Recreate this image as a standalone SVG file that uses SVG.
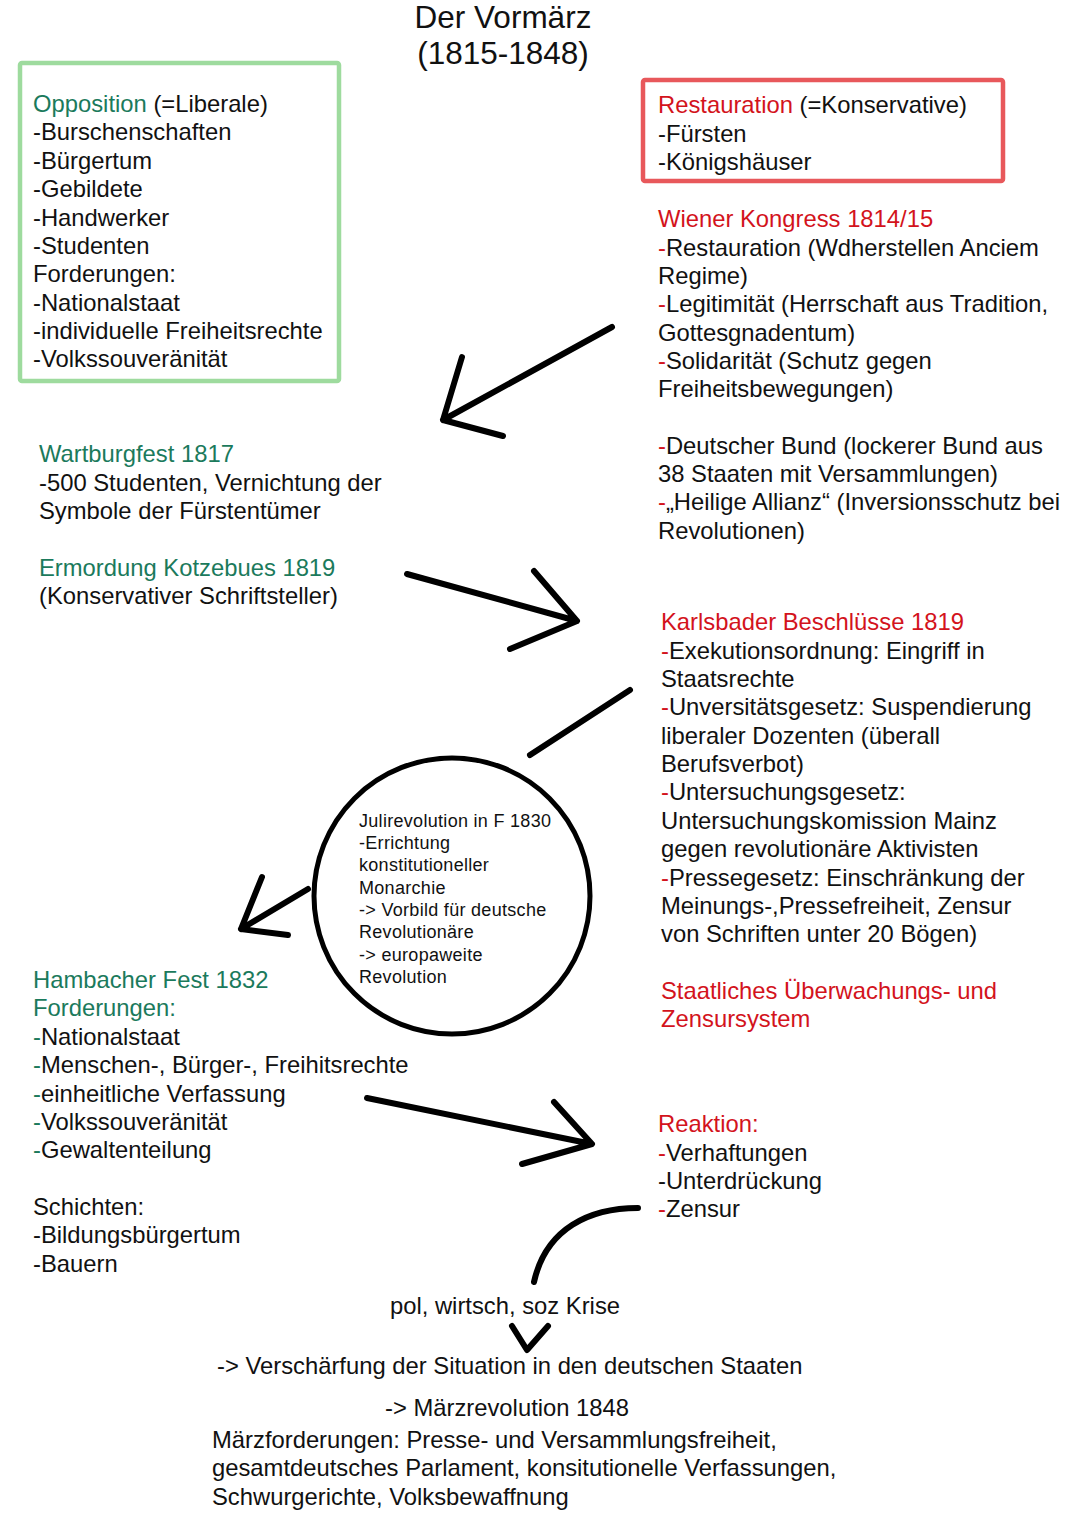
<svg xmlns="http://www.w3.org/2000/svg" width="1080" height="1527" viewBox="0 0 1080 1527">
<style>
text{font-family:"Liberation Sans",Arial,Helvetica,sans-serif;font-size:23.8px;fill:#111}
.g{fill:#1b7a5c}
.r{fill:#d3131c}
.title{font-size:31.5px}
.sm{font-size:18px;letter-spacing:0.3px}
.ln{fill:none;stroke:#000;stroke-width:6;stroke-linecap:round;stroke-linejoin:round}
</style>
<rect width="1080" height="1527" fill="#fff"/>
<g id="title">
<text class="title" x="503" y="28" text-anchor="middle">Der Vormärz</text>
<text class="title" x="503" y="64" text-anchor="middle">(1815-1848)</text>
</g>
<g id="opposition">
<rect x="20" y="63" width="319" height="318" fill="none" stroke="#9edb9e" stroke-width="4.5" rx="2"/>
<text x="33" y="112"><tspan class="g">Opposition</tspan> (=Liberale)</text>
<text x="33" y="140">-Burschenschaften</text>
<text x="33" y="169">-Bürgertum</text>
<text x="33" y="197">-Gebildete</text>
<text x="33" y="226">-Handwerker</text>
<text x="33" y="254">-Studenten</text>
<text x="33" y="282">Forderungen:</text>
<text x="33" y="311">-Nationalstaat</text>
<text x="33" y="339">-individuelle Freiheitsrechte</text>
<text x="33" y="367">-Volkssouveränität</text>
</g>
<g id="restauration">
<rect x="643" y="80" width="360" height="101" fill="none" stroke="#e8585b" stroke-width="4.5" rx="2"/>
<text x="658" y="113"><tspan class="r">Restauration</tspan> (=Konservative)</text>
<text x="658" y="142">-Fürsten</text>
<text x="658" y="170">-Königshäuser</text>
</g>
<g id="wiener-kongress">
<text class="r" x="658" y="227">Wiener Kongress 1814/15</text>
<text x="658" y="256"><tspan class="r">-</tspan>Restauration (Wdherstellen Anciem</text>
<text x="658" y="284">Regime)</text>
<text x="658" y="312"><tspan class="r">-</tspan>Legitimität (Herrschaft aus Tradition,</text>
<text x="658" y="341">Gottesgnadentum)</text>
<text x="658" y="369"><tspan class="r">-</tspan>Solidarität (Schutz gegen</text>
<text x="658" y="397">Freiheitsbewegungen)</text>
<text x="658" y="454"><tspan class="r">-</tspan>Deutscher Bund (lockerer Bund aus</text>
<text x="658" y="482">38 Staaten mit Versammlungen)</text>
<text x="658" y="510"><tspan class="r">-</tspan>„Heilige Allianz“ (Inversionsschutz bei</text>
<text x="658" y="539">Revolutionen)</text>
</g>
<g id="wartburgfest">
<text class="g" x="39" y="462">Wartburgfest 1817</text>
<text x="39" y="491">-500 Studenten, Vernichtung der</text>
<text x="39" y="519">Symbole der Fürstentümer</text>
</g>
<g id="kotzebue">
<text class="g" x="39" y="576">Ermordung Kotzebues 1819</text>
<text x="39" y="604">(Konservativer Schriftsteller)</text>
</g>
<g id="karlsbad">
<text class="r" x="661" y="630">Karlsbader Beschlüsse 1819</text>
<text x="661" y="659"><tspan class="r">-</tspan>Exekutionsordnung: Eingriff in</text>
<text x="661" y="687">Staatsrechte</text>
<text x="661" y="715"><tspan class="r">-</tspan>Unversitätsgesetz: Suspendierung</text>
<text x="661" y="744">liberaler Dozenten (überall</text>
<text x="661" y="772">Berufsverbot)</text>
<text x="661" y="800"><tspan class="r">-</tspan>Untersuchungsgesetz:</text>
<text x="661" y="829">Untersuchungskomission Mainz</text>
<text x="661" y="857">gegen revolutionäre Aktivisten</text>
<text x="661" y="886"><tspan class="r">-</tspan>Pressegesetz: Einschränkung der</text>
<text x="661" y="914">Meinungs-,Pressefreiheit, Zensur</text>
<text x="661" y="942">von Schriften unter 20 Bögen)</text>
<text class="r" x="661" y="999">Staatliches Überwachungs- und</text>
<text class="r" x="661" y="1027">Zensursystem</text>
</g>
<g id="julirevolution">
<circle cx="452" cy="896" r="138" fill="none" stroke="#000" stroke-width="5"/>
<text class="sm" x="359" y="827">Julirevolution in F 1830</text>
<text class="sm" x="359" y="849">-Errichtung</text>
<text class="sm" x="359" y="871">konstitutioneller</text>
<text class="sm" x="359" y="894">Monarchie</text>
<text class="sm" x="359" y="916">-&gt; Vorbild für deutsche</text>
<text class="sm" x="359" y="938">Revolutionäre</text>
<text class="sm" x="359" y="961">-&gt; europaweite</text>
<text class="sm" x="359" y="983">Revolution</text>
</g>
<g id="hambach">
<text class="g" x="33" y="988">Hambacher Fest 1832</text>
<text class="g" x="33" y="1016">Forderungen:</text>
<text x="33" y="1045"><tspan class="g">-</tspan>Nationalstaat</text>
<text x="33" y="1073"><tspan class="g">-</tspan>Menschen-, Bürger-, Freihitsrechte</text>
<text x="33" y="1102"><tspan class="g">-</tspan>einheitliche Verfassung</text>
<text x="33" y="1130"><tspan class="g">-</tspan>Volkssouveränität</text>
<text x="33" y="1158"><tspan class="g">-</tspan>Gewaltenteilung</text>
<text x="33" y="1215">Schichten:</text>
<text x="33" y="1243">-Bildungsbürgertum</text>
<text x="33" y="1272">-Bauern</text>
</g>
<g id="reaktion">
<text class="r" x="658" y="1132">Reaktion:</text>
<text x="658" y="1161"><tspan class="r">-</tspan>Verhaftungen</text>
<text x="658" y="1189">-Unterdrückung</text>
<text x="658" y="1217"><tspan class="r">-</tspan>Zensur</text>
</g>
<g id="ende">
<text x="505" y="1314" text-anchor="middle">pol, wirtsch, soz Krise</text>
<text x="217" y="1374">-&gt; Verschärfung der Situation in den deutschen Staaten</text>
<text x="385" y="1416">-&gt; Märzrevolution 1848</text>
<text x="212" y="1448">Märzforderungen: Presse- und Versammlungsfreiheit,</text>
<text x="212" y="1476">gesamtdeutsches Parlament, konsitutionelle Verfassungen,</text>
<text x="212" y="1505">Schwurgerichte, Volksbewaffnung</text>
</g>
<g id="connectors">
<path class="ln" d="M612,327 L443,420 M462,357 L443,420 L503,436"/>
<path class="ln" d="M407,574 L577,621 M534,571 L577,621 L510,649"/>
<path class="ln" d="M630,690 L530,755"/>
<path class="ln" d="M308,889 L241,929 M262,877 L241,929 L288,935"/>
<path class="ln" d="M367,1098 L592,1144 M554,1102 L592,1144 L522,1164"/>
<path class="ln" d="M638,1208 C590,1208 546,1228 534,1282"/>
<path class="ln" d="M512,1326 L527,1350 L548,1326"/>
</g>
</svg>
